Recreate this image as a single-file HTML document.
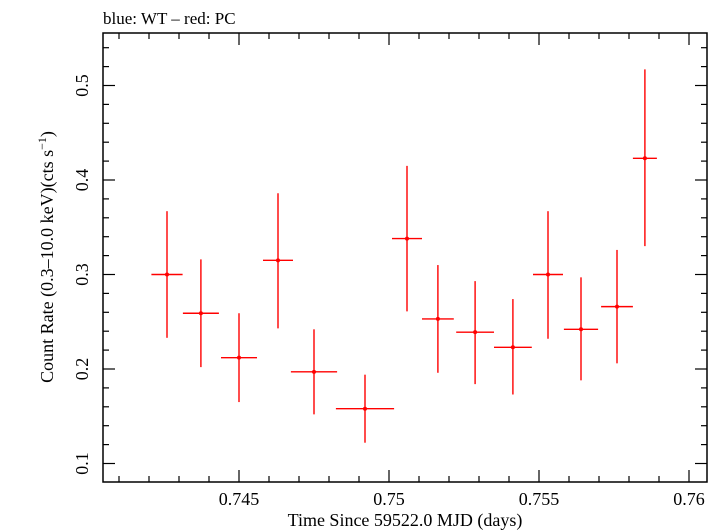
<!DOCTYPE html>
<html><head><meta charset="utf-8"><style>
body{margin:0;background:#fff}
svg{display:block;font-family:"Liberation Serif",serif}
</style></head><body>
<svg id="c" width="721" height="532">
<text x="103" y="24" font-size="17">blue: WT – red: PC</text>
<rect x="103" y="33" width="604" height="449" fill="none" stroke="#000" stroke-width="1.5"/>
<g id="ticks"></g>
<g id="marks"></g>
<text x="405" y="526" font-size="18" text-anchor="middle">Time Since 59522.0 MJD (days)</text>
<text transform="translate(53,257) rotate(-90)" font-size="18" text-anchor="middle">Count Rate (0.3–10.0 keV)(cts s<tspan dy="-7" font-size="12">−1</tspan><tspan dy="7">)</tspan></text>
</svg>
<script>
const times=[0.7426,0.74373,0.745,0.7463,0.7475,0.7492,0.7506,0.75163,0.75287,0.75413,0.7553,0.7564,0.7576,0.75853];
const halfWidths=[0.00052,0.0006,0.0006,0.0005,0.00077,0.00097,0.0005,0.00053,0.00063,0.00063,0.0005,0.00057,0.00053,0.0004];
const rates=[0.300,0.259,0.212,0.315,0.197,0.158,0.338,0.253,0.239,0.223,0.300,0.242,0.266,0.423];
const rateHi=[0.367,0.316,0.259,0.386,0.242,0.194,0.415,0.310,0.293,0.274,0.367,0.297,0.326,0.517];
const rateLo=[0.233,0.202,0.165,0.243,0.152,0.122,0.261,0.196,0.184,0.173,0.232,0.188,0.206,0.330];
const xTicks=[0.745,0.75,0.755,0.76];
const xTickLabels=["0.745","0.75","0.755","0.76"];
const yTicks=[0.1,0.2,0.3,0.4,0.5];
const yTickLabels=["0.1","0.2","0.3","0.4","0.5"];
const L=103,R=707,T=33,B=482;
const X=v=>239+(v-0.745)*30000;
const Y=v=>463.5-(v-0.1)*945;
const NS="http://www.w3.org/2000/svg";
function mk(tag,attrs,parent){const e=document.createElementNS(NS,tag);for(const k in attrs)e.setAttribute(k,attrs[k]);parent.appendChild(e);return e;}
const tg=document.getElementById('ticks'),mg=document.getElementById('marks');
for(let i=0;i<=25;i++){const v=0.740+i*0.001;const x=X(v);if(x<L||x>R)continue;
 const major=xTicks.some(t=>Math.abs(t-v)<1e-7);const len=major?12:6;
 const a=mk('line',{x1:x,x2:x,y1:B,y2:B-len,stroke:'#000','stroke-width':1.2},tg);
 
 const b=mk('line',{x1:x,x2:x,y1:T,y2:T+len,stroke:'#000','stroke-width':1.2},tg);
 }
xTicks.forEach((v,i)=>{const t=mk('text',{x:X(v),y:505,'font-size':18,'text-anchor':'middle'},tg);t.textContent=xTickLabels[i];
 });
for(let i=0;i<=30;i++){const v=0.08+i*0.02;const y=Y(v);if(y<T||y>B)continue;
 const major=yTicks.some(t=>Math.abs(t-v)<1e-7);const len=major?12:6;
 const a=mk('line',{x1:L,x2:L+len,y1:y,y2:y,stroke:'#000','stroke-width':1.2},tg);
 
 const b=mk('line',{x1:R,x2:R-len,y1:y,y2:y,stroke:'#000','stroke-width':1.2},tg);
 }
yTicks.forEach((v,i)=>{const t=mk('text',{transform:`translate(88,${Y(v)}) rotate(-90)`,'font-size':18,'text-anchor':'middle'},tg);t.textContent=yTickLabels[i];
 });
times.forEach((t,i)=>{const g=mk('g',{},mg);
 
 mk('line',{x1:X(t-halfWidths[i]),x2:X(t+halfWidths[i]),y1:Y(rates[i]),y2:Y(rates[i]),stroke:'#f00','stroke-width':1.4},g);
 mk('line',{x1:X(t),x2:X(t),y1:Y(rateHi[i]),y2:Y(rateLo[i]),stroke:'#f00','stroke-width':1.4},g);
 mk('circle',{cx:X(t),cy:Y(rates[i]),r:2,fill:'#f00'},g);});
</script>
</body></html>
